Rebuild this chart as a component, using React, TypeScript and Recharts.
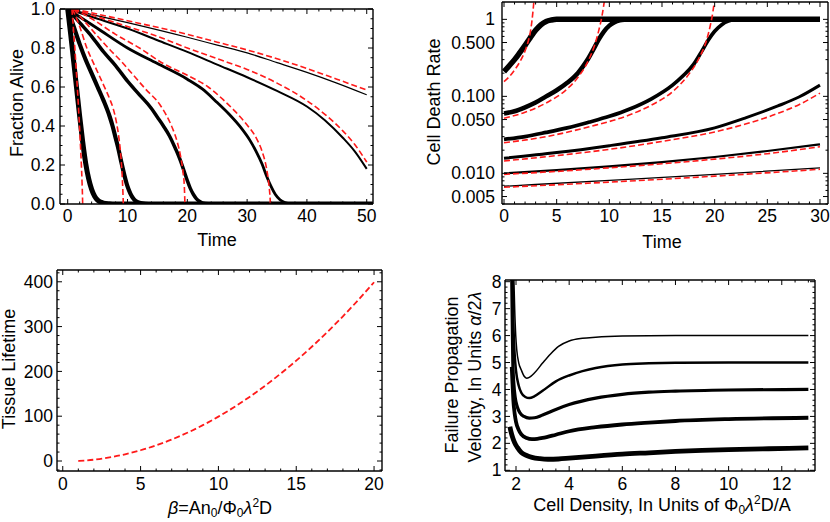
import { LineChart, Line, XAxis, YAxis } from "recharts";

const FONT = "'Liberation Sans', Arial, Helvetica, sans-serif";
const RED = "#ff1a1a";

type Pt = [number, number];

// ---- panel 1: fraction alive vs time (black = simulation, red dashed = approximation)
const aliveBlack: Pt[][] = [
  [[0, 1], [0.5, 0.87], [1, 0.73], [1.5, 0.59], [2, 0.45], [2.5, 0.32], [3, 0.21], [3.5, 0.13], [4, 0.075], [4.5, 0.04], [5, 0.02], [5.5, 0.01], [6, 0.004], [7, 0.001], [8, 0], [51, 0]],
  [[0, 1], [1, 0.91], [2, 0.82], [3, 0.74], [4, 0.67], [5, 0.6], [6, 0.53], [7, 0.45], [7.5, 0.4], [8, 0.34], [8.5, 0.28], [9, 0.21], [9.5, 0.145], [10, 0.09], [10.5, 0.052], [11, 0.027], [11.5, 0.013], [12, 0.006], [13, 0.001], [14, 0], [51, 0]],
  [[0, 1], [2, 0.93], [4, 0.86], [6, 0.78], [8, 0.71], [10, 0.63], [12, 0.56], [14, 0.49], [15, 0.445], [16, 0.4], [17, 0.35], [18, 0.285], [18.5, 0.25], [19, 0.21], [19.5, 0.165], [20, 0.12], [20.5, 0.08], [21, 0.05], [21.5, 0.028], [22, 0.014], [22.5, 0.006], [23.5, 0.001], [25, 0], [51, 0]],
  [[0, 1], [5, 0.9], [10, 0.8], [15, 0.72], [20, 0.64], [22.5, 0.59], [25, 0.52], [27, 0.46], [29, 0.39], [30.5, 0.325], [31.5, 0.27], [32.5, 0.205], [33.3, 0.14], [34, 0.09], [34.7, 0.05], [35.5, 0.022], [36.3, 0.008], [37.3, 0.001], [38.5, 0], [51, 0]],
  [[0, 1], [5, 0.95], [10, 0.9], [15, 0.84], [20, 0.78], [25, 0.715], [30, 0.65], [35, 0.58], [40, 0.5], [43, 0.43], [46, 0.34], [48, 0.27], [50, 0.18]],
  [[0, 1], [10, 0.93], [20, 0.855], [25, 0.815], [30, 0.775], [35, 0.725], [40, 0.675], [45, 0.62], [50, 0.56]],
];
const aliveRed: Pt[][] = [
  [[0.7, 1], [1, 0.88], [1.3, 0.75], [1.6, 0.6], [1.9, 0.44], [2.1, 0.32], [2.3, 0.19], [2.4, 0.11], [2.47, 0.04], [2.5, 0]],
  [[0.8, 1], [2, 0.91], [3.2, 0.8], [4.5, 0.71], [6, 0.61], [7, 0.54], [7.6, 0.49], [8.2, 0.41], [8.6, 0.33], [8.9, 0.24], [9.1, 0.15], [9.22, 0.07], [9.3, 0]],
  [[1, 1], [3, 0.93], [5, 0.86], [7.1, 0.79], [9, 0.73], [11, 0.66], [13, 0.59], [15.4, 0.51], [16.5, 0.455], [17.5, 0.39], [18.3, 0.32], [18.9, 0.24], [19.3, 0.16], [19.5, 0.09], [19.6, 0]],
  [[1, 1], [4, 0.95], [8, 0.87], [12, 0.8], [16, 0.72], [20, 0.66], [23.5, 0.6], [26, 0.535], [28, 0.475], [30, 0.405], [31.5, 0.34], [32.5, 0.27], [33.2, 0.19], [33.6, 0.11], [33.8, 0.05], [33.9, 0]],
  [[1, 1], [5, 0.96], [10, 0.91], [15, 0.86], [20, 0.8], [25, 0.745], [30, 0.69], [35, 0.62], [40, 0.53], [43, 0.46], [46, 0.375], [48, 0.305], [50, 0.215]],
  [[1, 1], [10, 0.94], [20, 0.87], [25, 0.83], [30, 0.79], [35, 0.745], [40, 0.695], [45, 0.64], [50, 0.585]],
];
const aliveWidths = [5, 4.2, 3.5, 2.8, 2, 1.2];

// ---- panel 2: cell death rate (log axis)
const rateBlack: Pt[][] = [
  [[0, 0.21], [0.5, 0.25], [1, 0.3], [1.5, 0.37], [2, 0.46], [2.5, 0.58], [3, 0.72], [3.5, 0.85], [4, 0.94], [4.5, 0.98], [5, 1], [30, 1]],
  [[0, 0.06], [1, 0.064], [2, 0.072], [3, 0.083], [4, 0.1], [5, 0.12], [6, 0.15], [7, 0.2], [7.5, 0.245], [8, 0.31], [8.5, 0.41], [9, 0.55], [9.5, 0.7], [10, 0.83], [10.5, 0.92], [11, 0.97], [11.5, 0.99], [12, 1], [30, 1]],
  [[0, 0.0276], [2, 0.03], [4, 0.034], [6, 0.039], [8, 0.046], [10, 0.055], [12, 0.069], [14, 0.093], [16, 0.14], [17, 0.185], [18, 0.26], [18.7, 0.37], [19.4, 0.54], [20, 0.7], [20.7, 0.86], [21.3, 0.95], [22, 0.99], [22.5, 1], [30, 1]],
  [[0, 0.0157], [5, 0.0186], [10, 0.0229], [15, 0.029], [20, 0.039], [23, 0.053], [26, 0.075], [28, 0.098], [30, 0.14]],
  [[0, 0.01], [5, 0.011], [10, 0.0123], [15, 0.014], [20, 0.0163], [25, 0.0195], [30, 0.0238]],
  [[0, 0.0068], [10, 0.0081], [20, 0.0097], [30, 0.0118]],
];
const rateRed: Pt[][] = [
  [[0, 0.155], [0.5, 0.18], [1, 0.22], [1.5, 0.28], [2, 0.39], [2.3, 0.52], [2.5, 0.68], [2.65, 0.95], [2.8, 1.5], [2.9, 2.2]],
  [[0, 0.052], [2, 0.062], [4, 0.082], [6, 0.125], [7, 0.175], [8, 0.29], [8.6, 0.46], [9, 0.72], [9.3, 1.1], [9.55, 1.8], [9.65, 2.2]],
  [[0, 0.025], [4, 0.03], [8, 0.04], [12, 0.058], [14, 0.077], [16, 0.115], [17.5, 0.19], [18.5, 0.31], [19.2, 0.52], [19.6, 0.85], [19.85, 1.3], [20.05, 2.2]],
  [[0, 0.0145], [5, 0.017], [10, 0.0205], [15, 0.026], [20, 0.0345], [23, 0.044], [26, 0.06], [28, 0.078], [30, 0.11]],
  [[0, 0.0097], [5, 0.0106], [10, 0.0118], [15, 0.0133], [20, 0.0153], [25, 0.018], [30, 0.0222]],
  [[0, 0.0066], [10, 0.0077], [20, 0.0092], [30, 0.0113]],
];
const rateWidths = [5.5, 4.5, 3.7, 3, 2.2, 1.3];
const rateTicks = [0.005, 0.01, 0.05, 0.1, 0.5, 1];
const rateTickLabels = ["0.005", "0.010", "0.050", "0.100", "0.500", "1"];
const rateMinor = [0.004, 0.006, 0.007, 0.008, 0.009, 0.02, 0.03, 0.04, 0.06, 0.07, 0.08, 0.09, 0.2, 0.3, 0.4, 0.6, 0.7, 0.8, 0.9];

// ---- panel 3: tissue lifetime vs beta
const betaValues = [1, 2, 3, 4, 5, 6, 7, 8, 9, 10, 11, 12, 13, 14, 15, 16, 17, 18, 19, 20];
const lifetimeValues = [0, 3, 8, 15, 24, 35, 48, 63, 80, 99, 120, 143, 168, 195, 224, 255, 288, 323, 360, 399];

// ---- panel 4: failure propagation velocity vs density
const velocity: Pt[][] = [
  [[1.92, 8.1], [1.95, 7.0], [1.99, 6.0], [2.03, 5.45], [2.1, 5.0], [2.2, 4.72], [2.3, 4.5], [2.4, 4.42], [2.5, 4.45], [2.7, 4.62], [3.0, 4.98], [3.3, 5.32], [3.6, 5.6], [4.0, 5.8], [4.5, 5.9], [5.0, 5.94], [6, 5.98], [8, 6.0], [10, 6.0], [13, 6.0]],
  [[1.87, 8.1], [1.9, 6.5], [1.95, 5.3], [2.0, 4.7], [2.1, 4.15], [2.2, 3.88], [2.35, 3.72], [2.5, 3.68], [2.7, 3.75], [3.0, 3.95], [3.5, 4.3], [4, 4.52], [4.5, 4.68], [5, 4.8], [6, 4.93], [7, 4.97], [8, 4.99], [10, 5.0], [13, 5.0]],
  [[1.84, 8.1], [1.86, 6.5], [1.88, 5.0], [1.92, 4.2], [1.97, 3.7], [2.05, 3.35], [2.15, 3.13], [2.3, 3.0], [2.5, 2.94], [2.7, 2.95], [3.0, 3.05], [3.5, 3.26], [4, 3.44], [5, 3.68], [6, 3.82], [7, 3.9], [8, 3.94], [10, 3.98], [13, 4.0]],
  [[1.84, 4.84], [1.87, 4.2], [1.9, 3.6], [1.95, 3.1], [2.0, 2.8], [2.1, 2.5], [2.2, 2.33], [2.4, 2.2], [2.6, 2.16], [2.8, 2.17], [3.0, 2.2], [3.5, 2.32], [4, 2.45], [5, 2.6], [6, 2.7], [7, 2.77], [8, 2.83], [10, 2.9], [13, 2.95]],
  [[1.77, 2.62], [1.82, 2.4], [1.88, 2.2], [1.95, 2.02], [2.05, 1.85], [2.2, 1.66], [2.4, 1.55], [2.6, 1.48], [2.9, 1.43], [3.2, 1.41], [3.6, 1.42], [4, 1.45], [5, 1.53], [6, 1.6], [7, 1.65], [8, 1.7], [9, 1.74], [10, 1.77], [11.5, 1.8], [13, 1.83]],
];
const velocityWidths = [1.5, 2.5, 3.2, 3.8, 4.8];

const rows = (pts: Pt[]) => pts.map(([x, y]) => ({ x, y }));
const range = (a: number, b: number, s: number) => {
  const out: number[] = [];
  for (let i = 0; a + i * s <= b + 1e-9; i++) out.push(+(a + i * s).toFixed(6));
  return out;
};
const merge = (major: number[], minor: number[]) =>
  Array.from(new Set([...major, ...minor])).sort((p, q) => p - q);

type Side = "bottom" | "top" | "left" | "right";
const isIn = (v: number, list: number[]) => list.some((m) => Math.abs(m - v) < 1e-9);

// draws the inward frame tick (major long, minor short) plus the label
function frameTick(side: Side, major: number[], gap: number, fmt?: (v: number) => string) {
  return (props: any) => {
    const { x, y, payload } = props;
    const v = payload.value;
    const big = isIn(v, major);
    const len = big ? 5 : 2.5;
    const label = big && fmt ? fmt(v) : null;
    let line;
    let text = null;
    if (side === "bottom") {
      line = <line x1={x} y1={y} x2={x} y2={y - len} />;
      if (label) text = <text x={x} y={y + gap} dy="0.71em" textAnchor="middle">{label}</text>;
    } else if (side === "top") {
      line = <line x1={x} y1={y} x2={x} y2={y + len} />;
    } else if (side === "left") {
      line = <line x1={x} y1={y} x2={x + len} y2={y} />;
      if (label) text = <text x={x - gap} y={y} dy="0.35em" textAnchor="end">{label}</text>;
    } else {
      line = <line x1={x} y1={y} x2={x - len} y2={y} />;
    }
    return (
      <g>
        <g stroke="#000" strokeWidth={1}>{line}</g>
        {text && <g fill="#000" fontSize={17.5} fontFamily={FONT}>{text}</g>}
      </g>
    );
  };
}

interface FrameCfg {
  xDomain: [number, number];
  yDomain: [number, number];
  xMajor: number[];
  xMinor: number[];
  yMajor: number[];
  yMinor: number[];
  xFmt: (v: number) => string;
  yFmt: (v: number) => string;
  xGap: number;
  yGap: number;
  yLog?: boolean;
}

// four axes forming the Mathematica-style frame; each is 1px thick so it renders
function frameAxes(c: FrameCfg) {
  const common = {
    type: "number" as const,
    allowDataOverflow: true,
    tickLine: false,
    tickSize: 0,
    tickMargin: 0,
    interval: 0 as const,
    axisLine: { stroke: "#000", strokeWidth: 1.4 },
  };
  const xt = merge(c.xMajor, c.xMinor);
  const yt = merge(c.yMajor, c.yMinor);
  const yScale = c.yLog ? ("log" as const) : ("linear" as const);
  return [
    <XAxis key="xb" xAxisId="b" orientation="bottom" dataKey="x" height={1} domain={c.xDomain} ticks={xt} tick={frameTick("bottom", c.xMajor, c.xGap, c.xFmt)} {...common} />,
    <XAxis key="xt" xAxisId="t" orientation="top" dataKey="x" height={1} domain={c.xDomain} ticks={xt} tick={frameTick("top", c.xMajor, 0)} {...common} />,
    <YAxis key="yl" yAxisId="l" orientation="left" dataKey="y" width={1} scale={yScale} domain={c.yDomain} ticks={yt} tick={frameTick("left", c.yMajor, c.yGap, c.yFmt)} {...common} />,
    <YAxis key="yr" yAxisId="r" orientation="right" dataKey="y" width={1} scale={yScale} domain={c.yDomain} ticks={yt} tick={frameTick("right", c.yMajor, 0)} {...common} />,
  ];
}

// margins are the frame edges minus the 1px axes
const m = (top: number, right: number, bottom: number, left: number) => ({
  top: top - 1,
  right: right - 1,
  bottom: bottom - 1,
  left: left - 1,
});

const panelStyle = (left: number, top: number) => ({ position: "absolute" as const, left, top });

export default function App() {
  const lifetimeRows = betaValues.map((b, i) => ({ x: b, y: lifetimeValues[i] }));

  return (
    <div style={{ position: "absolute", left: 0, top: 0, width: 830, height: 522, background: "#fff", fontFamily: FONT }}>
      {/* top-left: fraction alive */}
      <div style={panelStyle(0, 0)}>
        <LineChart width={415} height={261} margin={m(9, 42, 57, 60)}>
          {aliveBlack.map((pts, i) => (
            <Line key={"ab" + i} data={rows(pts)} xAxisId="b" yAxisId="l" dataKey="y" type="monotone" stroke="#000" strokeWidth={aliveWidths[i]} dot={false} isAnimationActive={false} />
          ))}
          {aliveRed.map((pts, i) => (
            <Line key={"ar" + i} data={rows(pts)} xAxisId="b" yAxisId="l" dataKey="y" type="monotone" stroke={RED} strokeWidth={1.6} strokeDasharray="6 3" dot={false} isAnimationActive={false} />
          ))}
          {frameAxes({
            xDomain: [-1.29, 51.05],
            yDomain: [0, 1],
            xMajor: [0, 10, 20, 30, 40, 50],
            xMinor: range(0, 50, 2),
            yMajor: [0, 0.2, 0.4, 0.6, 0.8, 1],
            yMinor: range(0, 1, 0.05),
            xFmt: (v) => String(v),
            yFmt: (v) => v.toFixed(1),
            xGap: 6,
            yGap: 5,
          })}
        </LineChart>
      </div>

      {/* top-right: cell death rate */}
      <div style={panelStyle(415, 0)}>
        <LineChart width={415} height={261} margin={m(2, 2, 57, 87)}>
          {rateBlack.map((pts, i) => (
            <Line key={"rb" + i} data={rows(pts)} xAxisId="b" yAxisId="l" dataKey="y" type="monotone" stroke="#000" strokeWidth={rateWidths[i]} dot={false} isAnimationActive={false} />
          ))}
          {rateRed.map((pts, i) => (
            <Line key={"rr" + i} data={rows(pts)} xAxisId="b" yAxisId="l" dataKey="y" type="monotone" stroke={RED} strokeWidth={1.6} strokeDasharray="6 3" dot={false} isAnimationActive={false} />
          ))}
          {frameAxes({
            xDomain: [-0.19, 30.76],
            yDomain: [0.004, 1.68],
            xMajor: [0, 5, 10, 15, 20, 25, 30],
            xMinor: range(0, 30, 1),
            yMajor: rateTicks,
            yMinor: rateMinor,
            xFmt: (v) => String(v),
            yFmt: (v) => rateTickLabels[rateTicks.findIndex((t) => Math.abs(t - v) < 1e-9)] ?? "",
            xGap: 6,
            yGap: 7,
            yLog: true,
          })}
        </LineChart>
      </div>

      {/* bottom-left: tissue lifetime */}
      <div style={panelStyle(0, 261)}>
        <LineChart width={415} height={261} margin={m(9, 33, 51, 57)}>
          <Line data={lifetimeRows} xAxisId="b" yAxisId="l" dataKey="y" type="monotone" stroke={RED} strokeWidth={1.8} strokeDasharray="6 3" dot={false} isAnimationActive={false} />
          {frameAxes({
            xDomain: [-0.37, 20.51],
            yDomain: [-22.3, 426.3],
            xMajor: [0, 5, 10, 15, 20],
            xMinor: range(0, 20, 1),
            yMajor: [0, 100, 200, 300, 400],
            yMinor: range(-20, 420, 20),
            xFmt: (v) => String(v),
            yFmt: (v) => String(v),
            xGap: 7,
            yGap: 4,
          })}
        </LineChart>
      </div>

      {/* bottom-right: failure propagation velocity */}
      <div style={panelStyle(415, 261)}>
        <LineChart width={415} height={261} margin={m(19, 15, 51, 90)}>
          {velocity.map((pts, i) => (
            <Line key={"v" + i} data={rows(pts)} xAxisId="b" yAxisId="l" dataKey="y" type="monotone" stroke="#000" strokeWidth={velocityWidths[i]} dot={false} isAnimationActive={false} />
          ))}
          {frameAxes({
            xDomain: [1.586, 13.25],
            yDomain: [0.974, 8.063],
            xMajor: [2, 4, 6, 8, 10, 12],
            xMinor: range(2, 13, 0.5),
            yMajor: [1, 2, 3, 4, 5, 6, 7, 8],
            yMinor: range(1, 8, 0.2),
            xFmt: (v) => String(v),
            yFmt: (v) => String(v),
            xGap: 7,
            yGap: 3.5,
          })}
        </LineChart>
      </div>

      {/* axis titles */}
      <svg width={830} height={522} style={{ position: "absolute", left: 0, top: 0, pointerEvents: "none" }} fontFamily={FONT} fontSize={18} fill="#000">
        <text transform="translate(17,103) rotate(-90)" textAnchor="middle" dy="0.35em">Fraction Alive</text>
        <text x={217} y={246} textAnchor="middle">Time</text>

        <text transform="translate(434,102) rotate(-90)" textAnchor="middle" dy="0.35em">Cell Death Rate</text>
        <text x={662} y={248} textAnchor="middle">Time</text>

        <text transform="translate(9,369) rotate(-90)" textAnchor="middle" dy="0.35em">Tissue Lifetime</text>
        <text x={220} y={514} textAnchor="middle">
          <tspan fontStyle="italic">β</tspan>=An<tspan dy={3} fontSize={12}>0</tspan>
          <tspan dy={-3}>/Φ</tspan><tspan dy={3} fontSize={12}>0</tspan>
          <tspan dy={-3} fontStyle="italic">λ</tspan><tspan dy={-7} fontSize={12}>2</tspan>
          <tspan dy={7}>D</tspan>
        </text>

        <text transform="translate(452,375) rotate(-90)" textAnchor="middle" dy="0.35em">Failure Propagation</text>
        <text transform="translate(475,377) rotate(-90)" textAnchor="middle" dy="0.35em">
          Velocity, In Units <tspan fontStyle="italic">α</tspan>/2<tspan fontStyle="italic">λ</tspan>
        </text>
        <text x={662} y={511} textAnchor="middle">
          Cell Density, In Units of Φ<tspan dy={3} fontSize={12}>0</tspan>
          <tspan dy={-3} fontStyle="italic">λ</tspan><tspan dy={-7} fontSize={12}>2</tspan>
          <tspan dy={7}>D/A</tspan>
        </text>
      </svg>
    </div>
  );
}
